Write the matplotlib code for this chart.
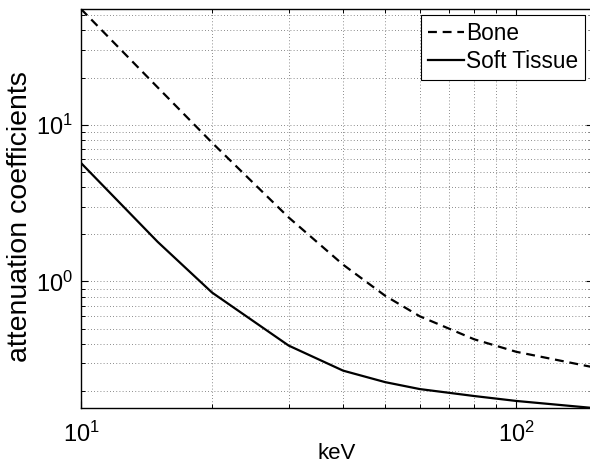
import numpy as np
import matplotlib
matplotlib.use("Agg")
import matplotlib.pyplot as plt

plt.rcParams['font.family'] = ['Liberation Sans', 'DejaVu Sans']
plt.rcParams['mathtext.fontset'] = 'custom'
plt.rcParams['mathtext.rm'] = 'Liberation Sans'

# photon energies (keV) and linear attenuation coefficients (1/cm)
kev = [10, 15, 20, 30, 40, 50, 60, 80, 100, 150]
bone = [54.7, 17.3, 7.68, 2.56, 1.28, 0.81, 0.60, 0.428, 0.356, 0.284]
soft_tissue = [5.70, 1.79, 0.85, 0.39, 0.27, 0.228, 0.206, 0.186, 0.173, 0.156]

fig = plt.figure(figsize=(5.9, 4.63), dpi=100)
ax = fig.add_axes([81/590, 1 - 408/463, (593 - 81)/590, (408 - 9)/463])

ax.loglog(kev, bone, 'k--', lw=1.6, dashes=(4, 2.6), label='Bone')
ax.loglog(kev, soft_tissue, 'k-', lw=1.6, label='Soft Tissue')

ax.set_xlim(10, 150)
ax.set_ylim(min(soft_tissue), max(bone))

ax.grid(True, which='both', linestyle=(0, (1, 2.8)), color='0.4', lw=0.6)
ax.tick_params(which='both', direction='in', top=True, right=True, labelsize=17)
ax.tick_params(which='major', length=5, width=0.8)
ax.tick_params(which='minor', length=3, width=0.7)
ax.tick_params(axis='x', pad=10)
ax.tick_params(axis='y', pad=6)
for s in ax.spines.values():
    s.set_linewidth(1.0)

ax.set_xlabel('keV', fontsize=16, labelpad=-3)
ax.set_ylabel('attenuation coefficients', fontsize=20.5)
ax.yaxis.set_label_coords(-0.093, 0.48)

leg = ax.legend(loc='upper right', fontsize=16.3, fancybox=False, framealpha=1,
                edgecolor='k', handlelength=1.6, handletextpad=0.08,
                borderpad=0.3, labelspacing=0.22, borderaxespad=0,
                bbox_to_anchor=(0.984, 0.985))
leg.get_frame().set_linewidth(0.8)

fig.savefig('out.png', dpi=100)
